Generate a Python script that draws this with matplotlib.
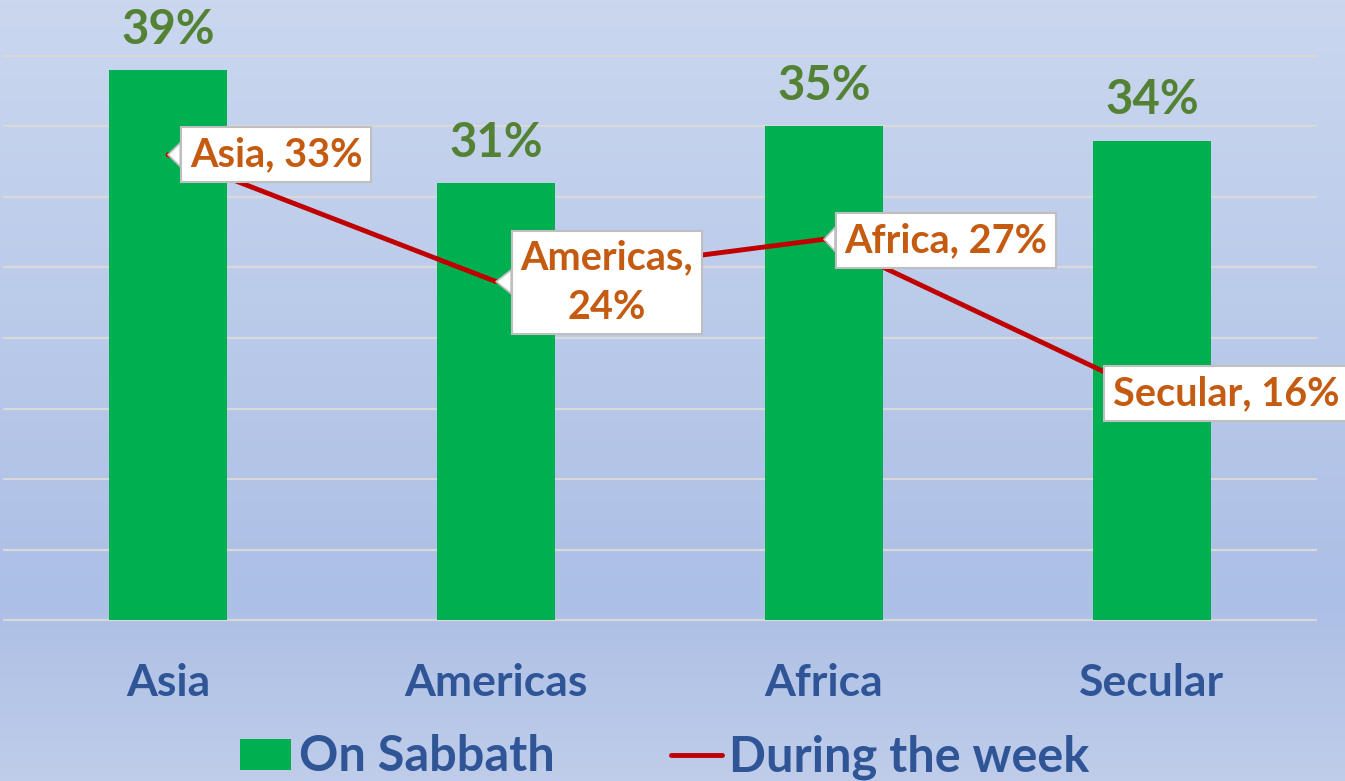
import numpy as np
import matplotlib
matplotlib.use("Agg")
from matplotlib import pyplot as plt
from matplotlib.colors import LinearSegmentedColormap
from matplotlib.patches import Patch
from matplotlib.lines import Line2D

plt.rcParams['font.family'] = ['Lato', 'DejaVu Sans']
plt.rcParams['font.weight'] = 'bold'

# dados
categorias = ["Asia", "Americas", "Africa", "Secular"]
no_sabado = [39, 31, 35, 34]
durante_semana = [33, 24, 27, 16]
rotulos_semana = ["Asia, 33%", "Americas,\n24%", "Africa, 27%", "Secular, 16%"]
nome_barras = "On Sabbath"
nome_linha = "During the week"

VERDE = "#00b050"
VERMELHO = "#c00000"
AZUL = "#2f5597"
VERDE_ESCURO = "#548235"
LARANJA = "#c55a11"

fig = plt.figure(figsize=(13.45, 7.81), dpi=100)

# fundo em degradê (slide)
fundo = fig.add_axes([0, 0, 1, 1], zorder=-10)
cmap_fundo = LinearSegmentedColormap.from_list(
    "fundo", [(0.0, "#cad7ef"), (0.77, "#acbfe5"), (1.0, "#bfcdea")])
fundo.imshow(np.linspace(0, 1, 256).reshape(-1, 1), aspect="auto",
             cmap=cmap_fundo, extent=[0, 1, 0, 1])
fundo.axis("off")

ax = fig.add_axes([4 / 1345, 161 / 781, 1312 / 1345, 620 / 781])
ax.set_facecolor("none")

x = np.arange(len(categorias))
barras = ax.bar(x, no_sabado, width=0.36, color=VERDE, zorder=3)
linha, = ax.plot(x, durante_semana, color=VERMELHO, lw=3.5,
                 solid_capstyle="round", solid_joinstyle="round", zorder=4)

ax.set_xlim(-0.5, 3.5)
ax.set_ylim(0, 620 / 14.1)

# linhas de grade
for g in range(0, 45, 5):
    ax.axhline(g, color="#d9d9d9", lw=1.6, zorder=1, clip_on=False)

for s in ax.spines.values():
    s.set_visible(False)
ax.set_yticks([])
ax.set_xticks(x)
ax.set_xticklabels(categorias, fontsize=32, color=AZUL, fontweight="bold")
ax.tick_params(axis="x", length=0, pad=31)

# rótulos das barras
for xi, v in zip(x, no_sabado):
    ax.annotate(f"{v}%", (xi, v), xytext=(0, 19), textcoords="offset points",
                ha="center", va="baseline", fontsize=34, color=VERDE_ESCURO,
                fontweight="bold", zorder=6)

# rótulos da linha (balões)
deslocamentos = [(108, 0), (111, 1), (122, 1), (74, -1)]
for i, (xi, v) in enumerate(zip(x, durante_semana)):
    dx, dy = deslocamentos[i]
    setas = None
    if i < 3:
        setas = dict(arrowstyle="wedge,tail_width=0.6,shrink_factor=0.5",
                     fc="white", ec="#bfbfbf", lw=1.2, shrinkA=0, shrinkB=0)
    ax.annotate(rotulos_semana[i], (xi, v), xytext=(dx, -dy),
                textcoords="offset pixels", ha="center", va="center",
                fontsize=28.5, color=LARANJA, fontweight="bold",
                linespacing=1.4, zorder=7, annotation_clip=False,
                bbox=dict(boxstyle="square,pad=0.22", fc="white",
                          ec="#bfbfbf", lw=1.5),
                arrowprops=setas)

handles = [Patch(facecolor=VERDE, edgecolor="none"),
           Line2D([0], [0], color=VERMELHO, lw=3.5, solid_capstyle="round")]
fig.legend(handles, [nome_barras, nome_linha], loc="center",
           bbox_to_anchor=(665 / 1345, 1 - 757 / 781), ncol=2, frameon=False,
           prop=dict(size=35, weight="bold"), labelcolor=AZUL,
           handlelength=1.05, handleheight=0.6, handletextpad=0.15,
           columnspacing=2.4, borderpad=0, borderaxespad=0)

fig.savefig("out.png", dpi=100)
